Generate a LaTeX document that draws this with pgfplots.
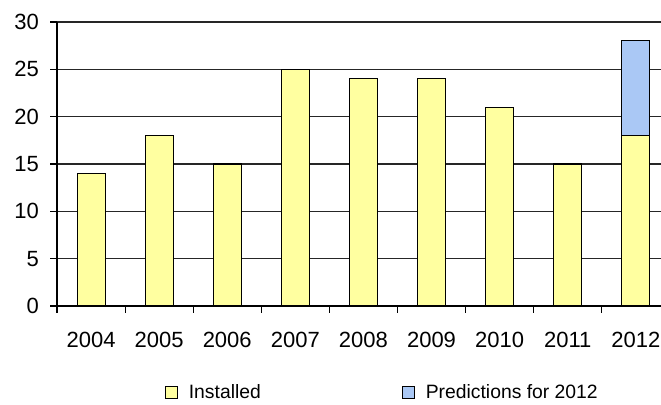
\documentclass[border=0pt]{standalone}
\usepackage{pgfplots}
\pgfplotsset{compat=1.18}
\usepackage{fontspec}
\setmainfont{Liberation Sans}
\definecolor{barY}{RGB}{255,255,160}
\definecolor{barB}{RGB}{170,200,245}
\begin{document}
\begin{tikzpicture}
\begin{axis}[
  scale only axis, width=453pt, height=213pt,
  xmin=-0.5, xmax=8.37, ymin=0, ymax=30,
  ybar stacked, bar width=21pt,
  axis x line*=bottom, axis y line*=left,
  axis line style={black, line width=0.9pt},
  ytick={0,5,...,30}, ymajorgrids, grid style={black!85, line width=0.9pt},
  xtick={0,...,8}, xticklabels={2004,2005,2006,2007,2008,2009,2010,2011,2012},
  major x tick style={draw=none},
  minor xtick={-0.5,0.5,...,7.5},
  tick align=outside, major tick length=5pt, minor tick length=5pt,
  tick style={black, line width=0.8pt},
  /pgf/number format/assume math mode=true,
  ticklabel style={font=\fontsize{16.5}{19}\selectfont},
  yticklabel style={xshift=-5pt},
  xticklabel style={yshift=-11pt},
  legend columns=2,
  legend style={at={(0.1788,-0.305)}, anchor=west, draw=none, inner sep=0pt,
    font=\fontsize{14.5}{17}\selectfont,
    /tikz/every odd column/.append style={column sep=6pt},
    /tikz/every even column/.append style={column sep=104pt}},
]
\addplot[fill=barY, draw=black, line width=0.8pt,
  legend image code/.code={\draw[fill=barY,draw=black,line width=0.7pt] (0pt,-4.5pt) rectangle (9pt,4.5pt);}]
  coordinates {(0,14)(1,18)(2,15)(3,25)(4,24)(5,24)(6,21)(7,15)(8,18)};
\addlegendentry{Installed}
\addplot[fill=barB, draw=black, line width=0.8pt,
  legend image code/.code={\draw[fill=barB,draw=black,line width=0.7pt] (0pt,-4.5pt) rectangle (9pt,4.5pt);}]
  coordinates {(0,0)(1,0)(2,0)(3,0)(4,0)(5,0)(6,0)(7,0)(8,10)};
\addlegendentry{Predictions for 2012}
\end{axis}
\pgfresetboundingbox
\path[use as bounding box] ([xshift=-42.75pt,yshift=-73.5pt]current axis.south west) rectangle ([yshift=16.5pt]current axis.north east);
\end{tikzpicture}
\end{document}
